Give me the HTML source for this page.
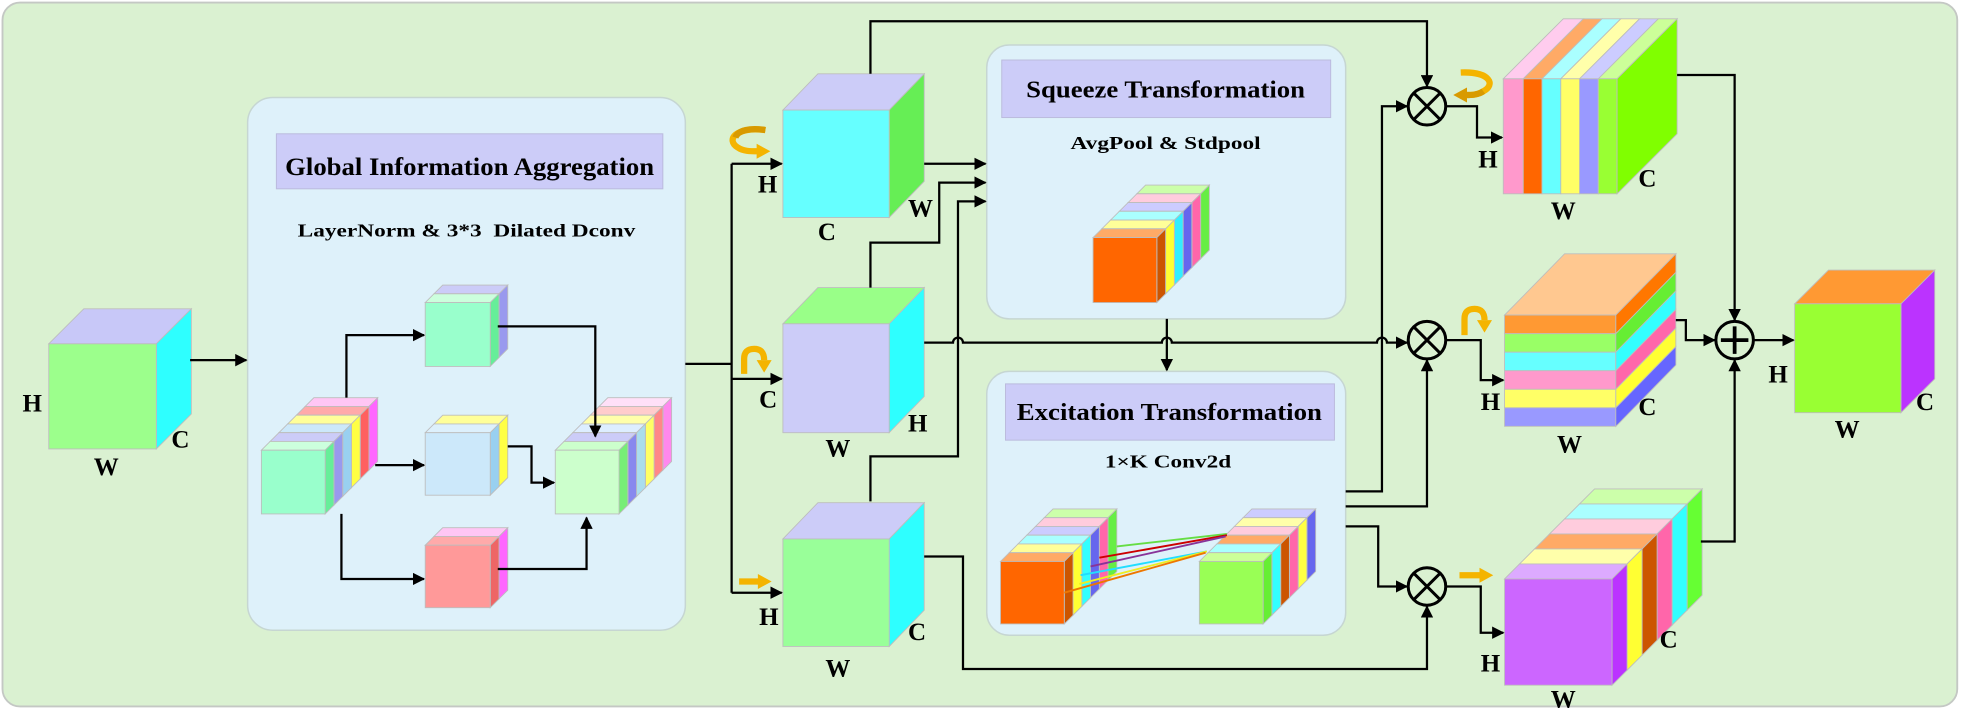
<!DOCTYPE html>
<html><head><meta charset="utf-8"><style>
html,body{margin:0;padding:0;background:#fff;}
svg{display:block;}
text{font-family:"Liberation Serif",serif;font-weight:bold;fill:#000;}
</style></head><body>
<svg id="s" width="1961" height="719" viewBox="0 0 1568 575" preserveAspectRatio="none" xmlns="http://www.w3.org/2000/svg">
<defs>
<marker id="ah" viewBox="0 0 10 10" refX="9" refY="5" markerWidth="5.5" markerHeight="5.5" orient="auto" markerUnits="strokeWidth"><path d="M0,0 L10,5 L0,10 z" fill="#000"/></marker>
</defs>
<rect x="2" y="2" width="1563" height="563" rx="14" fill="#daf1d1" stroke="#c4c8c4" stroke-width="1.5"/>
<!-- boxes -->
<rect x="198" y="78" width="350" height="426" rx="20" fill="#def1fa" stroke="#c6d6d2" stroke-width="1.2"/>
<rect x="221" y="107" width="309" height="44" fill="#ccccf8" stroke="#bbbbdd" stroke-width="0.8"/>
<rect x="789" y="36" width="287" height="219" rx="18" fill="#def1fa" stroke="#c6d6d2" stroke-width="1.2"/>
<rect x="801" y="48" width="263" height="46" fill="#ccccf8" stroke="#bbbbdd" stroke-width="0.8"/>
<rect x="789" y="297" width="287" height="211" rx="18" fill="#def1fa" stroke="#c6d6d2" stroke-width="1.2"/>
<rect x="804" y="307" width="263" height="45" fill="#ccccf8" stroke="#bbbbdd" stroke-width="0.8"/>
<g id="shapes"></g>
<g id="lines" fill="none" stroke="#000" stroke-width="1.8">
<!-- input -> GIA -->
<path d="M152 288 H197" marker-end="url(#ah)"/>
<!-- GIA internal -->
<path d="M277 318 V268 H339" marker-end="url(#ah)"/>
<path d="M300 372 H339" marker-end="url(#ah)"/>
<path d="M273 411 V463 H339" marker-end="url(#ah)"/>
<path d="M398 261 H476 V349" marker-end="url(#ah)"/>
<path d="M406 357 H425 V386 H443" marker-end="url(#ah)"/>
<path d="M398 455 H469 V414" marker-end="url(#ah)"/>
<!-- GIA out bus -->
<path d="M548 291 H585"/>
<path d="M585 131 V474"/>
<path d="M585 131 H625" marker-end="url(#ah)"/>
<path d="M585 303 H625" marker-end="url(#ah)"/>
<path d="M585 474 H625" marker-end="url(#ah)"/>
<!-- to squeeze -->
<path d="M739 131 H788" marker-end="url(#ah)"/>
<path d="M696 230 V194 H751 V146 H788" marker-end="url(#ah)"/>
<path d="M696 401 V365 H766 V161 H788" marker-end="url(#ah)"/>
<!-- top line -->
<path d="M696 59 V17 H1141 V69" marker-end="url(#ah)"/>
<!-- B side line with hops -->
<path d="M739 274 H762 a4 4 0 0 1 8 0 H929 a4 4 0 0 1 8 0 H1101 a4 4 0 0 1 8 0 H1125" marker-end="url(#ah)"/>
<!-- squeeze to excitation -->
<path d="M933 255 V296" marker-end="url(#ah)"/>
<!-- C side -->
<path d="M739 445 H770 V535 H1141 V485" marker-end="url(#ah)"/>
<!-- excitation outs -->
<path d="M1076 393 H1105 V85 H1125" marker-end="url(#ah)"/>
<path d="M1076 405 H1141 V288" marker-end="url(#ah)"/>
<path d="M1076 421 H1102 V469 H1125" marker-end="url(#ah)"/>
<!-- otimes outs -->
<path d="M1156 85 H1181 V110 H1201" marker-end="url(#ah)"/>
<path d="M1156 272 H1184 V304 H1202" marker-end="url(#ah)"/>
<path d="M1156 469 H1184 V506 H1202" marker-end="url(#ah)"/>
<!-- to oplus -->
<path d="M1341 60 H1387 V256" marker-end="url(#ah)"/>
<path d="M1340 256 H1348 V272 H1371" marker-end="url(#ah)"/>
<path d="M1360 433 H1387 V288" marker-end="url(#ah)"/>
<path d="M1402 272 H1434" marker-end="url(#ah)"/>
</g>
<!-- circles -->
<g fill="#fff0" stroke="#000" stroke-width="2.4">
<circle cx="1141" cy="85" r="15" fill="none"/>
<path d="M1130.4 74.4 L1151.6 95.6 M1151.6 74.4 L1130.4 95.6"/>
<circle cx="1141" cy="272" r="15" fill="none"/>
<path d="M1130.4 261.4 L1151.6 282.6 M1151.6 261.4 L1130.4 282.6"/>
<circle cx="1141" cy="469" r="15" fill="none"/>
<path d="M1130.4 458.4 L1151.6 479.6 M1151.6 458.4 L1130.4 479.6"/>
<circle cx="1387" cy="272" r="15" fill="none"/>
<path d="M1387 261 V283 M1376 272 H1398" stroke-width="3"/>
</g>
<!-- orange arrows -->
<g fill="none" stroke-width="5">
<path d="M612 104 C588 101 580 112 590 118 C594 121 600 121 606 121" stroke="#f4b400"/>
<path d="M612 104 C600 102 590 104 588 110" stroke="#d89a00"/>
<path d="M595 299 V287 Q595 279 603 279 Q611 279 611 288" stroke="#f4b400"/>
<path d="M591 465 H608" stroke="#f4b400"/>
<path d="M1168 58 C1192 57 1196 68 1186 73 C1182 76 1176 76 1172 76" stroke="#f4b400"/>
<path d="M1186 73 C1182 76 1176 76 1172 76" stroke="#d89a00"/>
<path d="M1171 268 V255 Q1171 247 1179 247 Q1187 247 1187 256" stroke="#f4b400"/>
<path d="M1167 460 H1185" stroke="#f4b400"/>
</g>
<g stroke="none">
<path d="M605 115 L616 121 L605 127 z" fill="#f4b400"/>
<path d="M605 288 L611 298 L617 288 z" fill="#f4b400"/>
<path d="M606 459 L617 465 L606 471 z" fill="#f4b400"/>
<path d="M1173 70 L1162 76 L1173 82 z" fill="#d89a00"/>
<path d="M1181 256 L1187 266 L1193 256 z" fill="#f4b400"/>
<path d="M1183 454 L1194 460 L1183 466 z" fill="#f4b400"/>
</g>
<!-- texts -->
<text x="375.5" y="140" font-size="20" text-anchor="middle" textLength="295" lengthAdjust="spacingAndGlyphs">Global Information Aggregation</text>
<text x="373" y="189" font-size="14.5" text-anchor="middle" textLength="270" lengthAdjust="spacingAndGlyphs" xml:space="preserve">LayerNorm &amp; 3*3  Dilated Dconv</text>
<text x="932" y="78" font-size="19" text-anchor="middle" textLength="223" lengthAdjust="spacingAndGlyphs">Squeeze Transformation</text>
<text x="932" y="119" font-size="14.5" text-anchor="middle" textLength="152" lengthAdjust="spacingAndGlyphs">AvgPool &amp; Stdpool</text>
<text x="935" y="336" font-size="19" text-anchor="middle" textLength="244" lengthAdjust="spacingAndGlyphs">Excitation Transformation</text>
<text x="934" y="374" font-size="14.5" text-anchor="middle" textLength="101" lengthAdjust="spacingAndGlyphs">1×K Conv2d</text>
<g font-size="20">
<text x="18" y="329">H</text><text x="75" y="380">W</text><text x="137" y="358">C</text>
<text x="606" y="154">H</text><text x="654" y="192">C</text><text x="726" y="173">W</text>
<text x="607" y="326">C</text><text x="660" y="365">W</text><text x="726" y="345">H</text>
<text x="607" y="500">H</text><text x="660" y="541">W</text><text x="726" y="512">C</text>
<text x="1182" y="134">H</text><text x="1240" y="175">W</text><text x="1310" y="149">C</text>
<text x="1184" y="328">H</text><text x="1245" y="362">W</text><text x="1310" y="332">C</text>
<text x="1184" y="537">H</text><text x="1240" y="566">W</text><text x="1327" y="518">C</text>
<text x="1414" y="306">H</text><text x="1467" y="350">W</text><text x="1532" y="328">C</text>
</g>
</svg>
<script>
var S='';
function P(pts,f){return '<polygon points="'+pts.map(function(p){return p[0]+','+p[1]}).join(' ')+'" fill="'+f+'" stroke="#bdbdbd" stroke-width="0.7"/>';}
function cube(x,y,w,h,d,f,t,s,dy){dy=dy||d;
 return P([[x,y],[x+d,y-dy],[x+w+d,y-dy],[x+w,y]],t)+P([[x+w,y],[x+w+d,y-dy],[x+w+d,y+h-dy],[x+w,y+h]],s)+P([[x,y],[x+w,y],[x+w,y+h],[x,y+h]],f);}
function stack(x,y,w,h,st,L){var n=L.length,o='';for(var i=0;i<n;i++){var k=n-1-i;o+=cube(x+k*st,y-k*st,w,h,st,L[i][2]||L[i][0],L[i][0],L[i][1]);}return o;}
// input cube
S+=cube(39,275,86,84,28,'#9cff8c','#c8c8f8','#2effff');
// GIA
S+=stack(209,360,51,51,7,[['#ffc6f4','#ff66ff'],['#ffaaaa','#ff6060'],['#ffff99','#ffff44'],['#cce8fa','#99d0f0'],['#ccccf8','#9999ee'],['#ccffdd','#66ee99','#99ffcc']]);
S+=stack(340,242,52,51,7,[['#ccccf8','#9999ee'],['#ccffdd','#66ee99','#99ffcc']]);
S+=stack(340,346,52,50,7,[['#ffff99','#ffff44'],['#ddf0fc','#99d0f0','#cce8fa']]);
S+=stack(340,436,52,50,7,[['#ffc6f4','#ff66ff'],['#ffaaaa','#ee6666','#ff9999']]);
S+=stack(444,360,51,51,7,[['#ffe0f8','#ff88ee'],['#ffcccc','#ff8888'],['#ffffaa','#ffff66'],['#ddeeff','#aaddee'],['#ccccf8','#8888ee'],['#ccffcc','#77ee77','#ccffcc']]);
// middle cubes
S+=cube(626,88,85,86,28,'#66ffff','#ccccf8','#66ee55',29);
S+=cube(626,259,85,87,28,'#ccccf8','#99ff88','#2effff',29);
S+=cube(626,431,85,86,28,'#99ff99','#ccccf8','#2effff',29);
// squeeze
S+=stack(874,190,51,52,7,[['#ccffaa','#66ee44'],['#ffccdd','#ff66aa'],['#ccccff','#6666ee'],['#aaffff','#33eeff'],['#ffff99','#ffff33'],['#ffaa66','#cc5500','#ff6600']]);
// excitation
S+=stack(800,449,51,50,7,[['#ccffaa','#66ee44'],['#ffccdd','#ff66aa'],['#ccccff','#6666ee'],['#aaffff','#33ffff'],['#ffff99','#ffff33'],['#ffaa66','#cc5500','#ff6600']]);
S+=stack(959,449,51,50,7,[['#ccccff','#6666ee'],['#ffffaa','#ffff44'],['#ffccdd','#ff66aa'],['#ffaa66','#cc5500'],['#aaffff','#33ffff'],['#ccff99','#66ee33','#99ff55']]);
var ln=[['#66dd44',893,437,981,427],['#cc0000',879,446,981,428],['#883399',872,453,980,429],['#22ddff',864,460,965,441],['#eeee22',863,467,965,441],['#ee7700',851,474,964,442]];
ln.forEach(function(l){S+='<line x1="'+l[1]+'" y1="'+l[2]+'" x2="'+l[3]+'" y2="'+l[4]+'" stroke="'+l[0]+'" stroke-width="1.5"/>';});
// out cube 1
(function(){var xs=[1202,1218,1233,1248,1263,1278,1293],fc=['#ff99cc','#ff6600','#66ffff','#ffff66','#9999ff','#99ff33'],tc=['#ffccee','#ffaa66','#aaffff','#ffffaa','#ccccff','#ccff99'];
for(var i=0;i<6;i++){S+=P([[xs[i],63],[xs[i+1],63],[xs[i+1]+48,15],[xs[i]+48,15]],tc[i]);S+=P([[xs[i],63],[xs[i+1],63],[xs[i+1],155],[xs[i],155]],fc[i]);}
S+=P([[1293,63],[1341,15],[1341,107],[1293,155]],'#80ff00');})();
// out cube 2
(function(){var fc=['#ff9933','#99ff66','#66ffff','#ff99cc','#ffff66','#9999ff'],sc=['#ff7700','#66ee33','#33ffff','#ff66aa','#ffff33','#6666ff'];
S+=P([[1203,252],[1292,252],[1340,203],[1251,203]],'#ffc890');
for(var i=0;i<6;i++){var a=252+i*14.83,b=a+14.83;S+=P([[1203,a],[1292,a],[1292,b],[1203,b]],fc[i]);S+=P([[1292,a],[1340,a-49],[1340,b-49],[1292,b]],sc[i]);}})();
// out cube 3
S+=stack(1203,463,86,85,12,[['#ccffaa','#66ff33'],['#aaffff','#33ffff'],['#ffccdd','#ff66aa'],['#ffaa66','#cc5500'],['#ffffaa','#ffff33'],['#ddaaff','#bb33ff','#cc66ff']]);
// final
S+=cube(1435,243,85,87,27,'#99ff33','#ff9933','#bb33ff');
document.getElementById('shapes').innerHTML=S;
</script>
</body></html>
